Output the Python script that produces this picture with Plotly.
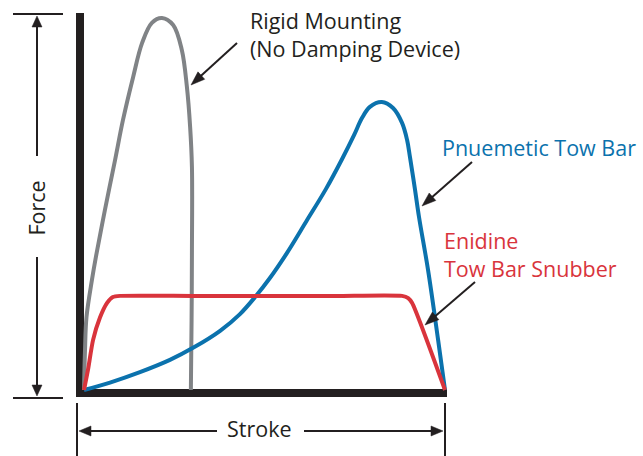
import plotly.graph_objects as go

W, H = 643, 456

# ---- data (stroke %, force %) ----
rigid_x = [0, 0.28, 0.69, 2.2, 3.3, 5.8, 8.6, 10.8, 13.6, 16.1, 18.8, 21.6, 24.7, 27.1, 28.5, 29.4, 29.9, 29.9, 29.8, 29.6]
rigid_y = [0, 10.75, 19.6, 29.6, 35.8, 48.4, 61.8, 72.6, 84.1, 93.3, 98.7, 100.0, 98.1, 91.4, 81.5, 70.7, 59.9, 37.6, 18.8, 0]

pneu_x = [0, 7.2, 15.5, 23.8, 30.7, 37.7, 43.2, 47.4, 51.5, 56.2, 61.8, 67.0, 71.5, 74.8, 77.0, 79.2, 82.5, 85.6, 88.1, 89.5, 90.3, 91.7, 92.8, 95.3, 98.1, 100]
pneu_y = [0, 2.0, 4.8, 8.1, 11.6, 15.9, 20.4, 25.0, 30.1, 36.8, 45.7, 54.0, 62.1, 68.5, 73.1, 76.1, 77.4, 75.8, 71.8, 67.2, 62.6, 53.8, 46.5, 32.3, 13.4, 0]

snub_x = [0, 1.1, 2.5, 4.4, 6.4, 8.0, 10.0, 30.0, 50.0, 70.0, 88.1, 89.8, 90.9, 100]
snub_y = [0, 5.4, 13.4, 19.4, 23.4, 25.0, 25.3, 25.3, 25.3, 25.3, 25.3, 24.7, 23.4, 0]

labels_rigid = ["Rigid Mounting", "(No Damping Device)"]
label_pneu = "Pnuemetic Tow Bar"
labels_snub = ["Enidine", "Tow Bar Snubber"]
axis_x_label = "Stroke"
axis_y_label = "Force"

GRAY = "#808386"
BLUE = "#0b72ad"
RED = "#d9343c"
INK = "#231f20"
FONT = "Open Sans"
FS = 21.5

# pixel -> data mapping (origin at px (84,390), 100% at px 445 / 18)
SX, SY = 3.61, 3.72
x_range = [(0 - 84) / SX, (W - 84) / SX]
y_range = [(390 - H) / SY, (390 - 0) / SY]

fig = go.Figure()
fig.add_trace(go.Scatter(x=rigid_x, y=rigid_y, mode="lines",
                         line=dict(color=GRAY, width=4, shape="spline", smoothing=1.0)))
fig.add_trace(go.Scatter(x=pneu_x, y=pneu_y, mode="lines",
                         line=dict(color=BLUE, width=4, shape="spline", smoothing=1.0)))
fig.add_trace(go.Scatter(x=snub_x, y=snub_y, mode="lines",
                         line=dict(color=RED, width=4, shape="spline", smoothing=0.6)))


def X(p):
    return p / W


def Y(q):
    return 1 - q / H


shapes = []


def seg(x0, y0, x1, y1, w=2):
    shapes.append(dict(type="line", xref="paper", yref="paper",
                       x0=X(x0), y0=Y(y0), x1=X(x1), y1=Y(y1),
                       line=dict(color=INK, width=w)))


def rect(x0, y0, x1, y1):
    shapes.append(dict(type="rect", xref="paper", yref="paper",
                       x0=X(x0), y0=Y(y0), x1=X(x1), y1=Y(y1),
                       line=dict(width=0), fillcolor=INK, layer="below"))


def head(tx, ty, fx, fy, L=12, Wd=10):
    dx, dy = tx - fx, ty - fy
    n = (dx * dx + dy * dy) ** 0.5
    ux, uy = dx / n, dy / n
    bx, by = tx - ux * L, ty - uy * L
    px, py = -uy * Wd / 2, ux * Wd / 2
    pts = [(tx, ty), (bx + px, by + py), (bx - px, by - py)]
    path = "M " + " L ".join(f"{X(a):.5f},{Y(b):.5f}" for a, b in pts) + " Z"
    shapes.append(dict(type="path", xref="paper", yref="paper", path=path,
                       fillcolor=INK, line=dict(color=INK, width=0.5)))


def arrow(x0, y0, x1, y1):
    dx, dy = x1 - x0, y1 - y0
    n = (dx * dx + dy * dy) ** 0.5
    seg(x0, y0, x1 - dx / n * 8, y1 - dy / n * 8, 2)
    head(x1, y1, x0, y0, L=14, Wd=10)


# thick L-shaped axes
rect(76, 13, 84, 397)
rect(76, 389, 447, 397)

# Force dimension
seg(13, 14, 63, 14, 2)
seg(13, 398, 63, 398, 2)
seg(37, 22, 37, 156, 2)
seg(37, 257, 37, 390, 2)
head(37, 16, 37, 40, L=11, Wd=10)
head(37, 396, 37, 370, L=11, Wd=10)

# Stroke dimension
seg(77, 403, 77, 456, 2)
seg(445, 403, 445, 456, 2)
seg(85, 431, 217, 431, 2)
seg(304, 431, 438, 431, 2)
head(79, 431, 100, 431, L=12, Wd=10)
head(443, 431, 420, 431, L=12, Wd=10)

# callout arrows
arrow(237, 43, 191, 85)
arrow(472, 162, 422, 206)
arrow(475, 282, 425, 325)

annotations = []


def text(s, x, y, color=INK, xanchor="left", angle=0):
    annotations.append(dict(text=s, xref="paper", yref="paper", x=X(x), y=Y(y),
                            xanchor=xanchor, yanchor="middle", showarrow=False,
                            textangle=angle,
                            font=dict(family=FONT, size=FS, color=color)))


text(labels_rigid[0], 248, 20)
text(labels_rigid[1], 248, 48)
text(label_pneu, 440, 147, BLUE)
text(labels_snub[0], 442, 240, RED)
text(labels_snub[1], 442, 268, RED)
text(axis_x_label, 259, 428, xanchor="center")
text(axis_y_label, 35.5, 208, xanchor="center", angle=-90)

fig.update_layout(
    width=W, height=H,
    margin=dict(l=0, r=0, t=0, b=0),
    paper_bgcolor="white", plot_bgcolor="rgba(0,0,0,0)",
    showlegend=False,
    xaxis=dict(range=x_range, visible=False, fixedrange=True),
    yaxis=dict(range=y_range, visible=False, fixedrange=True),
    shapes=shapes, annotations=annotations,
)

fig.write_html("out.html", config={"displayModeBar": False},
               post_script="document.body.style.margin='0';document.body.style.overflow='hidden';")
